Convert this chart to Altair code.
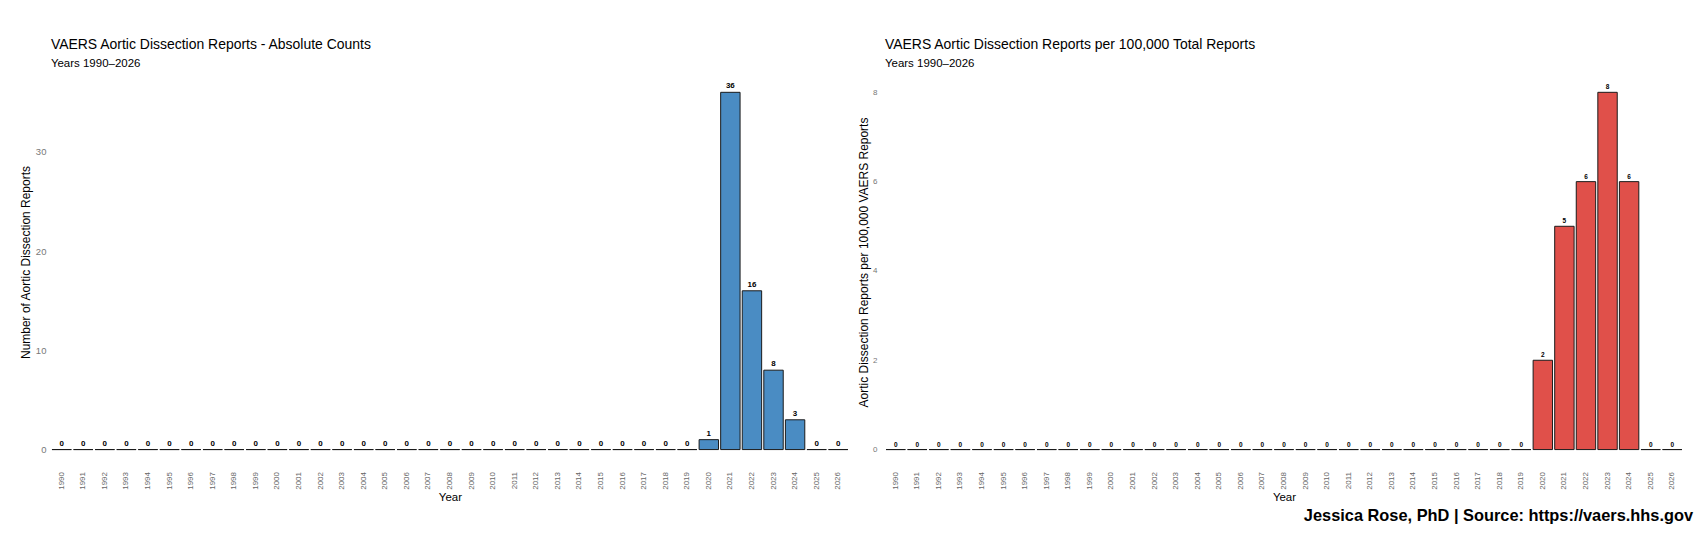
import altair as alt
import pandas as pd

years = [1990, 1991, 1992, 1993, 1994, 1995, 1996, 1997, 1998, 1999,
         2000, 2001, 2002, 2003, 2004, 2005, 2006, 2007, 2008, 2009,
         2010, 2011, 2012, 2013, 2014, 2015, 2016, 2017, 2018, 2019,
         2020, 2021, 2022, 2023, 2024, 2025, 2026]
counts = [0, 0, 0, 0, 0, 0, 0, 0, 0, 0,
          0, 0, 0, 0, 0, 0, 0, 0, 0, 0,
          0, 0, 0, 0, 0, 0, 0, 0, 0, 0,
          1, 36, 16, 8, 3, 0, 0]
rates = [0, 0, 0, 0, 0, 0, 0, 0, 0, 0,
         0, 0, 0, 0, 0, 0, 0, 0, 0, 0,
         0, 0, 0, 0, 0, 0, 0, 0, 0, 0,
         2.0, 5.0, 6.0, 8.0, 6.0, 0, 0]

df = pd.DataFrame({"Year": years, "Count": counts, "Rate": rates})

FONT = "Liberation Sans"


def panel(field, color, ymax, ticks, ytitle, title, labsize, ylabsize,
          ylabpad, ytitlepad):
    base = alt.Chart(df).encode(
        x=alt.X(
            "Year:O",
            title="Year",
            scale=alt.Scale(paddingInner=0.1, paddingOuter=0.05),
            axis=alt.Axis(
                labelAngle=270,
                labelFontSize=8,
                labelColor="#666666",
                labelPadding=22,
                titlePadding=2,
                titleFontSize=11.5,
                titleFontWeight="normal",
                titleColor="black",
                ticks=False,
                domain=False,
                grid=False,
                labelFont=FONT,
                titleFont=FONT,
            ),
        )
    )
    bars = base.mark_bar(color=color, stroke="#1a1a1a", strokeWidth=1).encode(
        y=alt.Y(
            f"{field}:Q",
            scale=alt.Scale(domain=[0, ymax], nice=False, zero=True),
            axis=alt.Axis(
                values=ticks,
                grid=False,
                domain=False,
                ticks=False,
                labelFontSize=ylabsize,
                labelColor="#777777",
                labelPadding=ylabpad,
                title=ytitle,
                titleFontSize=12,
                titleFontWeight="normal",
                titleColor="black",
                titlePadding=ytitlepad,
                labelFont=FONT,
                titleFont=FONT,
            ),
        )
    )
    text = base.mark_text(
        baseline="bottom", dy=-2, fontWeight="bold", fontSize=labsize,
        color="black", font=FONT
    ).encode(
        y=alt.Y(f"{field}:Q"),
        text=alt.Text(f"{field}:Q", format=".0f"),
    )
    return alt.layer(bars, text).properties(
        width=800,
        height=376,
        title=alt.TitleParams(
            text=title,
            subtitle="Years 1990–2026",
            anchor="start",
            frame="group",
            fontSize=14,
            fontWeight="normal",
            subtitleFontSize=11.5,
            subtitlePadding=6,
            font=FONT,
            subtitleFont=FONT,
            color="black",
            subtitleColor="black",
            offset=5,
        ),
    )


left = panel("Count", "#4A8CC3", 37.8, [0, 10, 20, 30],
             "Number of Aortic Dissection Reports",
             "VAERS Aortic Dissection Reports - Absolute Counts", 8,
             9.5, 5, 3)
right = panel("Rate", "#E0504A", 8.4, [0, 2, 4, 6, 8],
              "Aortic Dissection Reports per 100,000 VAERS Reports",
              "VAERS Aortic Dissection Reports per 100,000 Total Reports", 6.5,
              8, 8, 2)

chart = alt.hconcat(left, right, spacing=8).properties(
    title=alt.TitleParams(
        text="Jessica Rose, PhD | Source: https://vaers.hhs.gov",
        orient="bottom",
        anchor="end",
        fontSize=16.4,
        fontWeight="bold",
        font=FONT,
        color="black",
        offset=5,
        dx=10,
    ),
    padding={"left": 11, "top": 29, "right": 5, "bottom": 0},
).configure(background="white").configure_view(strokeWidth=0, stroke="transparent")

chart.save("out.html", embed_options={"renderer": "svg", "actions": False})
